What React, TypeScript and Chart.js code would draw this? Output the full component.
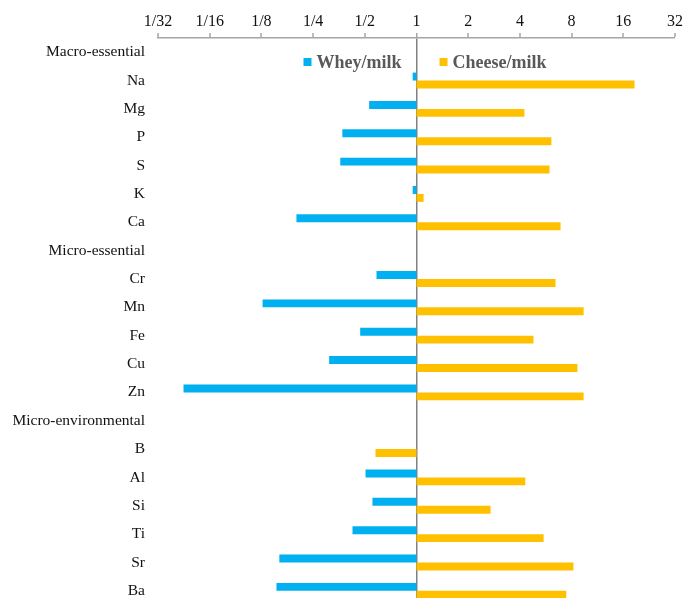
import React, { useEffect, useRef } from "react";
import { Chart, registerables } from "chart.js";

Chart.register(...registerables);

const categories = [
  "Macro-essential", "Na", "Mg", "P", "S", "K", "Ca",
  "Micro-essential", "Cr", "Mn", "Fe", "Cu", "Zn",
  "Micro-environmental", "B", "Al", "Si", "Ti", "Sr", "Ba",
];
const wheyMilk: (number | null)[] = [
  null, 0.95, 0.53, 0.37, 0.36, 0.95, 0.2,
  null, 0.585, 0.127, 0.47, 0.31, 0.044,
  null, null, 0.505, 0.554, 0.424, 0.159, 0.153,
];
const cheeseMilk: (number | null)[] = [
  null, 18.6, 4.25, 6.1, 5.95, 1.1, 6.9,
  null, 6.45, 9.4, 4.8, 8.65, 9.4,
  null, 0.577, 4.3, 2.7, 5.5, 8.2, 7.45,
];
const tickValues = [1 / 32, 1 / 16, 1 / 8, 1 / 4, 1 / 2, 1, 2, 4, 8, 16, 32];
const tickLabels = ["1/32", "1/16", "1/8", "1/4", "1/2", "1", "2", "4", "8", "16", "32"];

const SERIF = '"Liberation Serif", "Times New Roman", serif';
const BLUE = "#00B0F0";
const ORANGE = "#FFC000";

const legendPlugin = {
  id: "innerLegend",
  afterDraw(chart: any) {
    const ctx = chart.ctx;
    const xs = chart.scales.x;
    const area = chart.chartArea;
    const x1 = xs.getPixelForValue(1);
    const y = area.top + 24;
    ctx.save();
    ctx.font = `bold 18px ${SERIF}`;
    ctx.textBaseline = "middle";
    const ds = chart.data.datasets;
    const t0 = ds[0].label;
    const w0 = ctx.measureText(t0).width;
    const tx0 = x1 - 15 - w0;
    ctx.fillStyle = ds[0].backgroundColor;
    ctx.fillRect(tx0 - 13, y - 4, 8, 8);
    ctx.fillStyle = "#595959";
    ctx.textAlign = "left";
    ctx.fillText(t0, tx0, y + 1);
    const bx1 = x1 + 23;
    ctx.fillStyle = ds[1].backgroundColor;
    ctx.fillRect(bx1, y - 4, 8, 8);
    ctx.fillStyle = "#595959";
    ctx.fillText(ds[1].label, bx1 + 13, y + 1);
    ctx.restore();
  },
};

export default function App() {
  const canvasRef = useRef<HTMLCanvasElement | null>(null);

  useEffect(() => {
    document.body.style.overflow = "hidden";
    document.documentElement.style.overflow = "hidden";
    const canvas = canvasRef.current;
    if (!canvas) return;
    const chart = new Chart(canvas, {
      type: "bar",
      data: {
        labels: categories,
        datasets: [
          {
            label: "Whey/milk",
            data: wheyMilk.map((v) => (v == null ? null : [1, v])) as any,
            backgroundColor: BLUE,
            borderWidth: 0,
          },
          {
            label: "Cheese/milk",
            data: cheeseMilk.map((v) => (v == null ? null : [1, v])) as any,
            backgroundColor: ORANGE,
            borderWidth: 0,
          },
        ],
      },
      options: {
        indexAxis: "y",
        responsive: false,
        animation: false,
        events: [],
        layout: { padding: { left: 0, right: 10, top: 0, bottom: 0 } },
        datasets: {
          bar: { categoryPercentage: 0.56, barPercentage: 1 },
        },
        plugins: {
          legend: { display: false },
          tooltip: { enabled: false },
        },
        scales: {
          x: {
            type: "logarithmic",
            position: "top",
            min: 1 / 32,
            max: 32,
            afterBuildTicks: (scale: any) => {
              scale.ticks = tickValues.map((v) => ({ value: v }));
            },
            afterFit: (scale: any) => {
              scale.height = 38;
            },
            ticks: {
              autoSkip: false,
              maxRotation: 0,
              padding: 2,
              color: "#111",
              font: { family: SERIF, size: 16 },
              callback: (_v: any, i: number) => tickLabels[i],
            },
            grid: {
              drawOnChartArea: true,
              drawTicks: true,
              tickLength: 5,
              color: (c: any) =>
                c.tick && Math.abs(c.tick.value - 1) < 1e-9 ? "#808080" : "rgba(0,0,0,0)",
              lineWidth: (c: any) =>
                c.tick && Math.abs(c.tick.value - 1) < 1e-9 ? 1.5 : 0,
              tickColor: "#A6A6A6",
              tickWidth: 1.5,
            } as any,
            border: { display: true, color: "#A6A6A6", width: 1.5 },
          },
          y: {
            type: "category",
            afterFit: (scale: any) => {
              scale.width = 158;
              scale.paddingTop = 0;
              scale.paddingBottom = 0;
            },
            ticks: {
              autoSkip: false,
              padding: 13,
              color: "#111",
              font: { family: SERIF, size: 15.5 },
            },
            grid: { display: false, drawTicks: false },
            border: { display: false },
          },
        },
      } as any,
      plugins: [legendPlugin],
    });
    return () => chart.destroy();
  }, []);

  return (
    <div style={{ position: "fixed", left: 0, top: 0, width: 685, height: 605, background: "#fff" }}>
      <canvas ref={canvasRef} width={685} height={605} />
    </div>
  );
}
